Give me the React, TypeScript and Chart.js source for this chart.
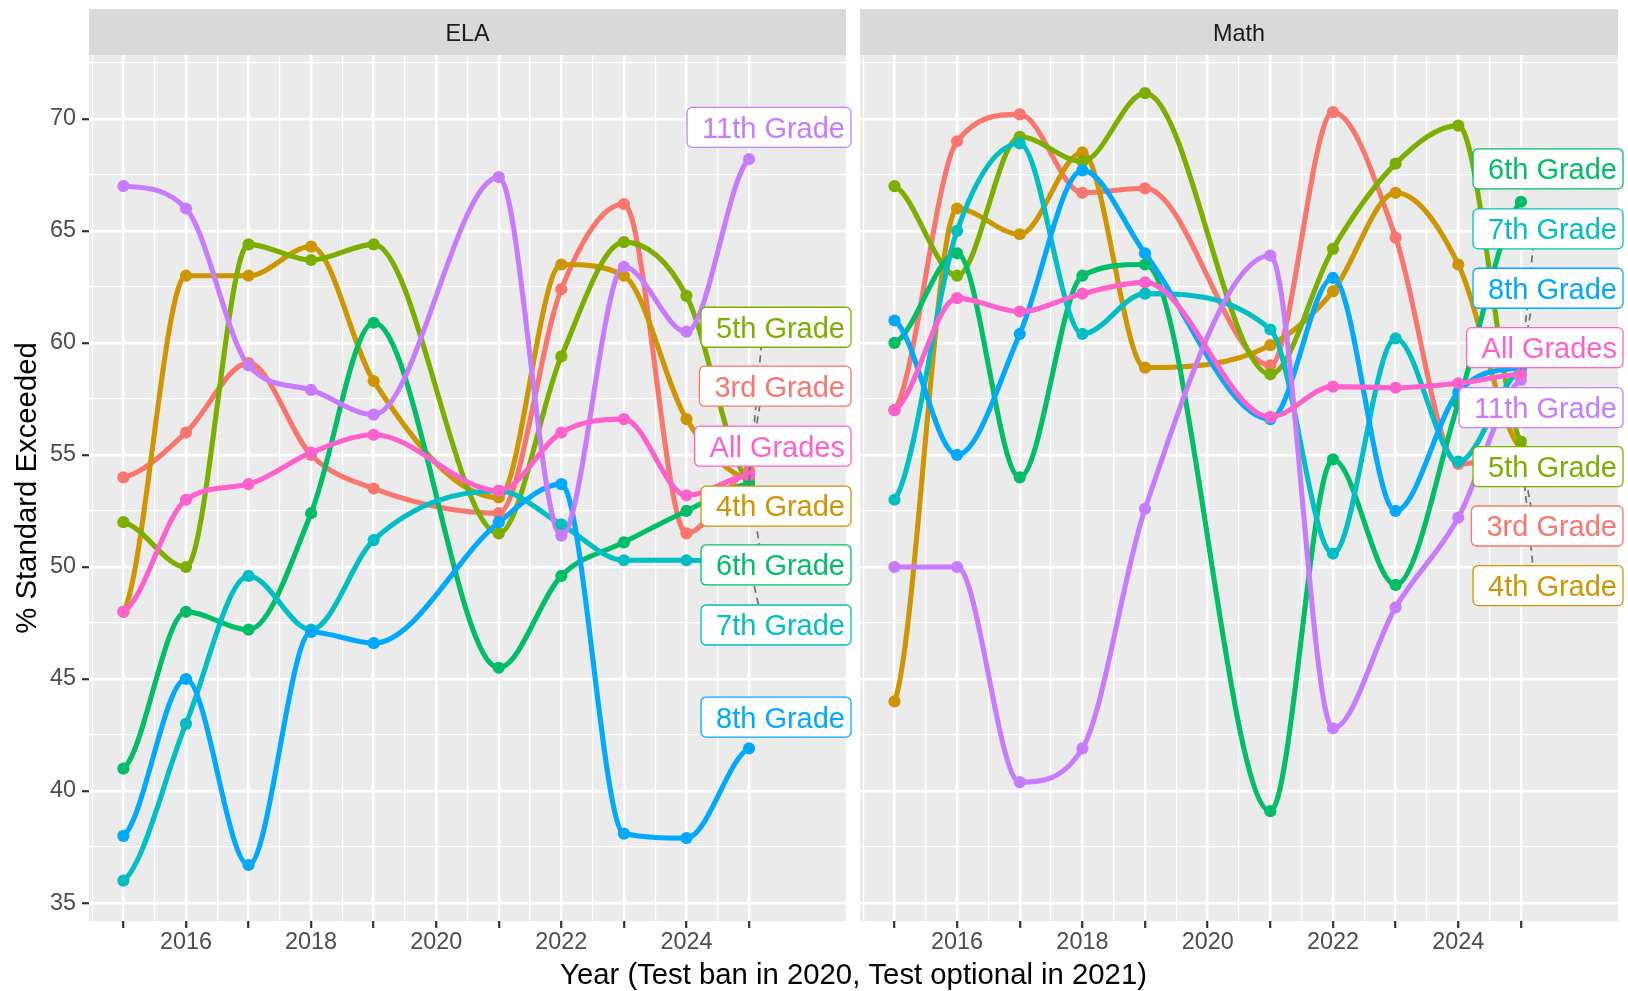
import { useEffect, useRef } from 'react';
import { Chart, registerables } from 'chart.js';

Chart.register(...registerables);

const FONT = '"Liberation Sans", Arial, Helvetica, sans-serif';

// ---------- data ----------
const YEARS = [2015, 2016, 2017, 2018, 2019, 2021, 2022, 2023, 2024, 2025];
const GRADES = ['3rd Grade', '4th Grade', '5th Grade', '6th Grade', '7th Grade', '8th Grade', '11th Grade', 'All Grades'];
const GRADE_COLORS = ['#F8766D', '#CD9600', '#7CAE00', '#00BE67', '#00BFC4', '#00A9FF', '#C77CFF', '#FF61CC'];

// ELA, % standard exceeded
const ELA_3RD = [54.0, 56.0, 59.1, 55.0, 53.5, 52.4, 62.4, 66.2, 51.5, 54.3];
const ELA_4TH = [48.0, 63.0, 63.0, 64.3, 58.3, 53.1, 63.5, 63.0, 56.6, 53.9];
const ELA_5TH = [52.0, 50.0, 64.4, 63.7, 64.4, 51.5, 59.4, 64.5, 62.1, 53.8];
const ELA_6TH = [41.0, 48.0, 47.2, 52.4, 60.9, 45.5, 49.6, 51.1, 52.5, 53.7];
const ELA_7TH = [36.0, 43.0, 49.6, 47.2, 51.2, 53.4, 51.9, 50.3, 50.3, 50.2];
const ELA_8TH = [38.0, 45.0, 36.7, 47.1, 46.6, 52.0, 53.7, 38.1, 37.9, 41.9];
const ELA_11TH = [67.0, 66.0, 59.0, 57.9, 56.8, 67.4, 51.4, 63.4, 60.5, 68.2];
const ELA_ALL = [48.0, 53.0, 53.7, 55.1, 55.9, 53.4, 56.0, 56.6, 53.2, 54.1];

// Math, % standard exceeded
const MATH_3RD = [57.0, 69.0, 70.2, 66.7, 66.9, 59.0, 70.3, 64.7, 54.6, 55.0];
const MATH_4TH = [44.0, 66.0, 64.85, 68.5, 58.9, 59.9, 62.3, 66.7, 63.5, 55.3];
const MATH_5TH = [67.0, 63.0, 69.2, 68.1, 71.15, 58.6, 64.2, 68.0, 69.7, 55.6];
const MATH_6TH = [60.0, 64.0, 54.0, 63.0, 63.5, 39.1, 54.8, 49.2, 57.3, 66.3];
const MATH_7TH = [53.0, 65.0, 68.9, 60.4, 62.2, 60.6, 50.6, 60.2, 54.7, 58.8];
const MATH_8TH = [61.0, 55.0, 60.4, 67.7, 64.0, 56.6, 62.9, 52.5, 57.8, 58.9];
const MATH_11TH = [50.0, 50.0, 40.4, 41.9, 52.6, 63.9, 42.8, 48.2, 52.2, 58.35];
const MATH_ALL = [57.0, 62.0, 61.4, 62.2, 62.7, 56.7, 58.05, 58.0, 58.2, 58.6];

const ELA_SERIES = [ELA_3RD, ELA_4TH, ELA_5TH, ELA_6TH, ELA_7TH, ELA_8TH, ELA_11TH, ELA_ALL];
const MATH_SERIES = [MATH_3RD, MATH_4TH, MATH_5TH, MATH_6TH, MATH_7TH, MATH_8TH, MATH_11TH, MATH_ALL];

// axis breaks / tick labels
const X_MAJOR_BREAKS = [2015, 2016, 2017, 2018, 2019, 2020, 2021, 2022, 2023, 2024, 2025];
const X_MINOR_BREAKS = [2014.5, 2015.5, 2016.5, 2017.5, 2018.5, 2019.5, 2020.5, 2021.5, 2022.5, 2023.5, 2024.5];
const X_TICK_LABELS = [2016, 2018, 2020, 2022, 2024];
const Y_MAJOR_BREAKS = [35, 40, 45, 50, 55, 60, 65, 70];
const Y_MINOR_BREAKS = [37.5, 42.5, 47.5, 52.5, 57.5, 62.5, 67.5, 72.5];

// repelled label layout (vertical centre, in axis units), same order as GRADES
const ELA_LABEL_Y = [58.07, 52.72, 60.7, 50.09, 47.41, 43.3, 69.62, 55.39];
const MATH_LABEL_Y = [51.83, 49.17, 54.48, 67.77, 65.09, 62.44, 57.11, 59.79];

// ---------- layout / style ----------
const W = 1628;
const H = 991;
const STRIP_TOP = 9;
const PANEL_TOP = 55;
const PANEL_BOTTOM = 921;
const ELA_LEFT = 89;
const ELA_RIGHT = 846;
const MATH_LEFT = 860;
const MATH_RIGHT = 1618;
const END_FLATTEN = 0.3; // softer tangents at the open ends of each spline

const X_GRID = [...X_MINOR_BREAKS, ...X_MAJOR_BREAKS].sort((a, b) => a - b);
const Y_GRID = [...Y_MAJOR_BREAKS, ...Y_MINOR_BREAKS].sort((a, b) => a - b);

function decorPlugin(strip: string, series: number[][], labelY: number[], first: boolean) {
  return {
    id: 'decor_' + strip,
    beforeDraw(chart: any) {
      const { ctx, chartArea: a } = chart;
      ctx.save();
      ctx.fillStyle = '#EBEBEB';
      ctx.fillRect(a.left, a.top, a.right - a.left, a.bottom - a.top);
      ctx.fillStyle = '#D9D9D9';
      ctx.fillRect(a.left, STRIP_TOP, a.right - a.left, a.top - STRIP_TOP);
      ctx.fillStyle = '#1A1A1A';
      ctx.font = `23.4px ${FONT}`;
      ctx.textAlign = 'center';
      ctx.textBaseline = 'alphabetic';
      ctx.fillText(strip, (a.left + a.right) / 2, 40.7);
      if (first) {
        ctx.fillStyle = '#000000';
        ctx.font = `29.3px ${FONT}`;
        ctx.fillText('Year (Test ban in 2020, Test optional in 2021)', (ELA_LEFT + MATH_RIGHT) / 2, 984);
        ctx.save();
        ctx.translate(36, (a.top + a.bottom) / 2);
        ctx.rotate(-Math.PI / 2);
        ctx.fillText('% Standard Exceeded', 0, 0);
        ctx.restore();
      }
      ctx.restore();
    },
    beforeDatasetDraw(chart: any, args: any) {
      const ds = chart.data.datasets[args.index];
      if (!ds || ds.showLine === false) return;
      const meta = args.meta;
      const line = meta.dataset;
      if (!line || !line.updateControlPoints) return;
      line.updateControlPoints(chart.chartArea, 'x');
      const pts = meta.data;
      if (!pts || pts.length < 2) return;
      const p0 = pts[0];
      const pn = pts[pts.length - 1];
      if (p0.cp2y !== undefined) p0.cp2y = p0.y + (p0.cp2y - p0.y) * END_FLATTEN;
      if (pn.cp1y !== undefined) pn.cp1y = pn.y + (pn.cp1y - pn.y) * END_FLATTEN;
    },
    afterDatasetsDraw(chart: any) {
      const { ctx, chartArea: a } = chart;
      const xs = chart.scales.x;
      const ys = chart.scales.y;
      const last = YEARS.length - 1;
      const px = xs.getPixelForValue(YEARS[last]);
      ctx.save();
      ctx.font = `29px ${FONT}`;
      const boxes = GRADES.map((g, i) => {
        const cy = ys.getPixelForValue(labelY[i]);
        const w = ctx.measureText(g).width;
        const right = a.right + 5;
        const textLeft = right - 6 - w;
        return { g, i, cy, right, left: textLeft - 15, textLeft, top: cy - 20, bottom: cy + 20 };
      });
      // connector segments
      ctx.strokeStyle = '#707070';
      ctx.lineWidth = 1.7;
      ctx.setLineDash([7, 5]);
      boxes.forEach((b) => {
        const py = ys.getPixelForValue(series[b.i][last]);
        let edgeY: number;
        if (py < b.top) edgeY = b.top;
        else if (py > b.bottom) edgeY = b.bottom;
        else return;
        if (Math.abs(edgeY - py) < 20) return;
        const tx = px + 14;
        const t = (edgeY - py) / (b.cy - py);
        const ex = px + (tx - px) * t;
        ctx.beginPath();
        ctx.moveTo(px, py);
        ctx.lineTo(ex, edgeY);
        ctx.stroke();
      });
      ctx.setLineDash([]);
      // label boxes
      boxes.forEach((b) => {
        const r = 5;
        const x0 = b.left, y0 = b.top, x1 = b.right, y1 = b.bottom;
        ctx.beginPath();
        ctx.moveTo(x0 + r, y0);
        ctx.lineTo(x1 - r, y0);
        ctx.arcTo(x1, y0, x1, y0 + r, r);
        ctx.lineTo(x1, y1 - r);
        ctx.arcTo(x1, y1, x1 - r, y1, r);
        ctx.lineTo(x0 + r, y1);
        ctx.arcTo(x0, y1, x0, y1 - r, r);
        ctx.lineTo(x0, y0 + r);
        ctx.arcTo(x0, y0, x0 + r, y0, r);
        ctx.closePath();
        ctx.fillStyle = '#FFFFFF';
        ctx.fill();
        ctx.strokeStyle = GRADE_COLORS[b.i];
        ctx.lineWidth = 1.3;
        ctx.stroke();
        ctx.fillStyle = GRADE_COLORS[b.i];
        ctx.textAlign = 'left';
        ctx.textBaseline = 'alphabetic';
        ctx.fillText(b.g, b.textLeft, b.cy + 10.4);
      });
      ctx.restore();
    },
  };
}

function buildConfig(strip: string, series: number[][], labelY: number[], first: boolean): any {
  const lineSets = GRADES.map((g, gi) => ({
    label: g,
    data: YEARS.map((x, i) => ({ x, y: series[gi][i] })),
    borderColor: GRADE_COLORS[gi],
    backgroundColor: GRADE_COLORS[gi],
    borderWidth: 5.1,
    pointRadius: 0,
    cubicInterpolationMode: 'monotone',
    fill: false,
    order: 100 - gi,
  }));
  const pointSets = GRADES.map((g, gi) => ({
    label: g + ' points',
    data: YEARS.map((x, i) => ({ x, y: series[gi][i] })),
    showLine: false,
    pointRadius: 6.1,
    pointBackgroundColor: GRADE_COLORS[gi],
    pointBorderWidth: 0,
    borderColor: GRADE_COLORS[gi],
    order: 50 - gi,
  }));
  const left = first ? 0 : MATH_LEFT;
  const right = first ? W - ELA_RIGHT : W - MATH_RIGHT;
  return {
    type: 'line',
    data: { datasets: [...lineSets, ...pointSets] },
    options: {
      responsive: false,
      animation: false,
      devicePixelRatio: 1,
      events: [],
      layout: { padding: { left, right, top: PANEL_TOP, bottom: 0 } },
      plugins: { legend: { display: false }, tooltip: { enabled: false }, title: { display: false } },
      scales: {
        x: {
          type: 'linear',
          min: 2014.45,
          max: 2026.55,
          bounds: 'data',
          afterBuildTicks: (s: any) => {
            s.ticks = X_GRID.map((v) => ({ value: v }));
          },
          afterFit: (s: any) => {
            s.height = H - PANEL_BOTTOM;
          },
          border: { display: false },
          grid: {
            color: '#FFFFFF',
            lineWidth: (c: any) => (c.tick && Number.isInteger(c.tick.value) ? 2.4 : 1.2),
            tickColor: (c: any) => (c.tick && Number.isInteger(c.tick.value) ? '#333333' : 'rgba(0,0,0,0)'),
            tickWidth: 2.2,
            tickLength: 7,
            drawTicks: true,
          },
          ticks: {
            autoSkip: false,
            maxRotation: 0,
            minRotation: 0,
            padding: 1,
            color: '#4D4D4D',
            font: { family: FONT, size: 23.4 },
            callback: (v: number) => (X_TICK_LABELS.includes(v) ? String(v) : ''),
          },
        },
        y: {
          type: 'linear',
          min: 34.2,
          max: 72.85,
          bounds: 'data',
          afterBuildTicks: (s: any) => {
            s.ticks = Y_GRID.map((v) => ({ value: v }));
          },
          afterFit: (s: any) => {
            s.width = first ? ELA_LEFT : 0;
          },
          border: { display: false },
          grid: {
            color: '#FFFFFF',
            lineWidth: (c: any) => (c.tick && c.tick.value % 5 === 0 ? 2.4 : 1.2),
            tickColor: (c: any) => (c.tick && c.tick.value % 5 === 0 ? '#333333' : 'rgba(0,0,0,0)'),
            tickWidth: 2.2,
            tickLength: 7,
            drawTicks: first,
          },
          ticks: {
            display: first,
            autoSkip: false,
            padding: 6,
            color: '#4D4D4D',
            font: { family: FONT, size: 23.4 },
            callback: (v: number) => (Y_MAJOR_BREAKS.includes(v) ? String(v) : ''),
          },
        },
      },
    },
    plugins: [decorPlugin(strip, series, labelY, first)],
  };
}

export default function App() {
  const elaRef = useRef<HTMLCanvasElement>(null);
  const mathRef = useRef<HTMLCanvasElement>(null);

  useEffect(() => {
    const c1 = new Chart(elaRef.current as HTMLCanvasElement, buildConfig('ELA', ELA_SERIES, ELA_LABEL_Y, true));
    const c2 = new Chart(mathRef.current as HTMLCanvasElement, buildConfig('Math', MATH_SERIES, MATH_LABEL_Y, false));
    return () => {
      c1.destroy();
      c2.destroy();
    };
  }, []);

  const canvasStyle: any = { position: 'absolute', left: 0, top: 0, width: W, height: H };
  return (
    <div style={{ position: 'absolute', left: 0, top: 0, width: W, height: H, background: '#FFFFFF', overflow: 'hidden' }}>
      <canvas ref={elaRef} width={W} height={H} style={canvasStyle} />
      <canvas ref={mathRef} width={W} height={H} style={canvasStyle} />
    </div>
  );
}
